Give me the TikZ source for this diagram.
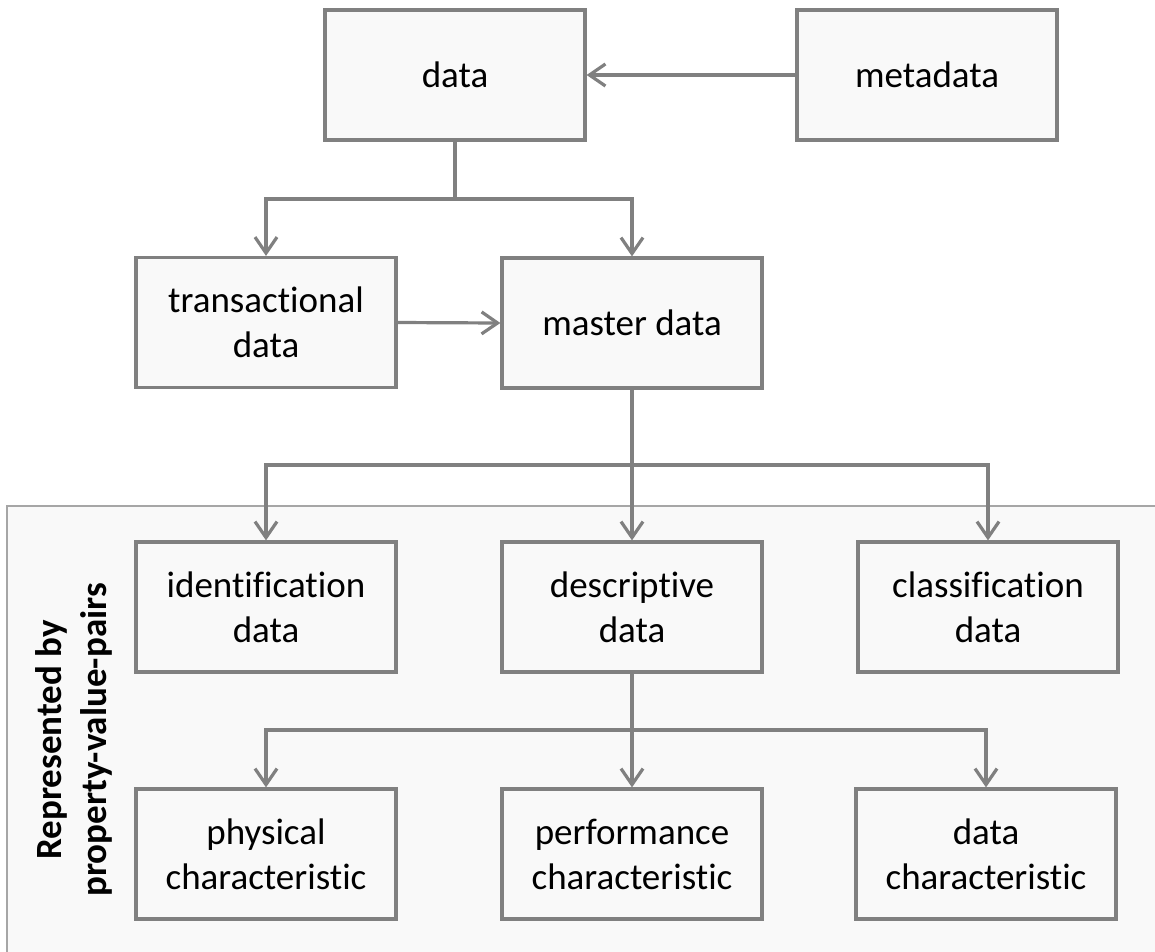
\documentclass[tikz,border=0pt]{standalone}
\usepackage{fontspec}
\setmainfont{Carlito}[Ligatures=NoCommon,RawFeature={-liga;-dlig}]
\usetikzlibrary{arrows.meta}
\definecolor{edgegray}{HTML}{808080}
\definecolor{panelgray}{HTML}{A6A6A6}
\definecolor{boxfill}{HTML}{F9F9F9}
\begin{document}
\begin{tikzpicture}[x=1pt,y=-1pt,
  databox/.style={draw=edgegray, line width=3.2pt, fill=boxfill,
    minimum width=260pt, minimum height=130pt, align=center,
    font=\fontsize{37}{45}\selectfont, inner sep=0pt},
  link/.style={draw=edgegray, line width=3.2pt},
  flow/.style={link, -{Straight Barb[length=16pt,width=22pt]}},
  sidenote/.style={font=\fontsize{37}{45}\selectfont\bfseries, align=center, rotate=90}]
  \useasboundingbox (0,0) rectangle (1155,951);
  % panel holding the property-value-pair data
  \draw[panelgray, line width=1.5pt, fill=boxfill] (7,506) rectangle (1175,975);
  \node[sidenote] (note) at (74,740) {Represented by\\property-value-pairs};

  % boxes
  \node[databox] (data) at (455,75) {data};
  \node[databox] (meta) at (927,75) {metadata};
  \node[databox] (trans) at (266,322.5) {transactional\\data};
  \node[databox] (master) at (632,323) {master data};
  \node[databox] (ident) at (266,607) {identification\\data};
  \node[databox] (descr) at (632,607) {descriptive\\data};
  \node[databox] (class) at (988,607) {classification\\data};
  \node[databox] (phys) at (266,854) {physical\\characteristic};
  \node[databox] (perf) at (632,854) {performance\\characteristic};
  \node[databox] (dchar) at (986,854) {data\\characteristic};

  % junction points of the branching connectors
  \coordinate (j1) at (455,199);
  \coordinate (j2) at (632,465);
  \coordinate (j3) at (632,730);

  % connectors
  \draw[flow] (meta.west) -- (data.east);
  \draw[link] (data.south) -- (j1);
  \draw[flow] (j1) -| (trans.north);
  \draw[flow] (j1) -| (master.north);
  \draw[flow] (trans.east) -- (master.west);
  \draw[link] (master.south) -- (j2);
  \draw[flow] (j2) -| (ident.north);
  \draw[flow] (j2) -- (descr.north);
  \draw[flow] (j2) -| (class.north);
  \draw[link] (descr.south) -- (j3);
  \draw[flow] (j3) -| (phys.north);
  \draw[flow] (j3) -- (perf.north);
  \draw[flow] (j3) -| (dchar.north);
\end{tikzpicture}
\end{document}
